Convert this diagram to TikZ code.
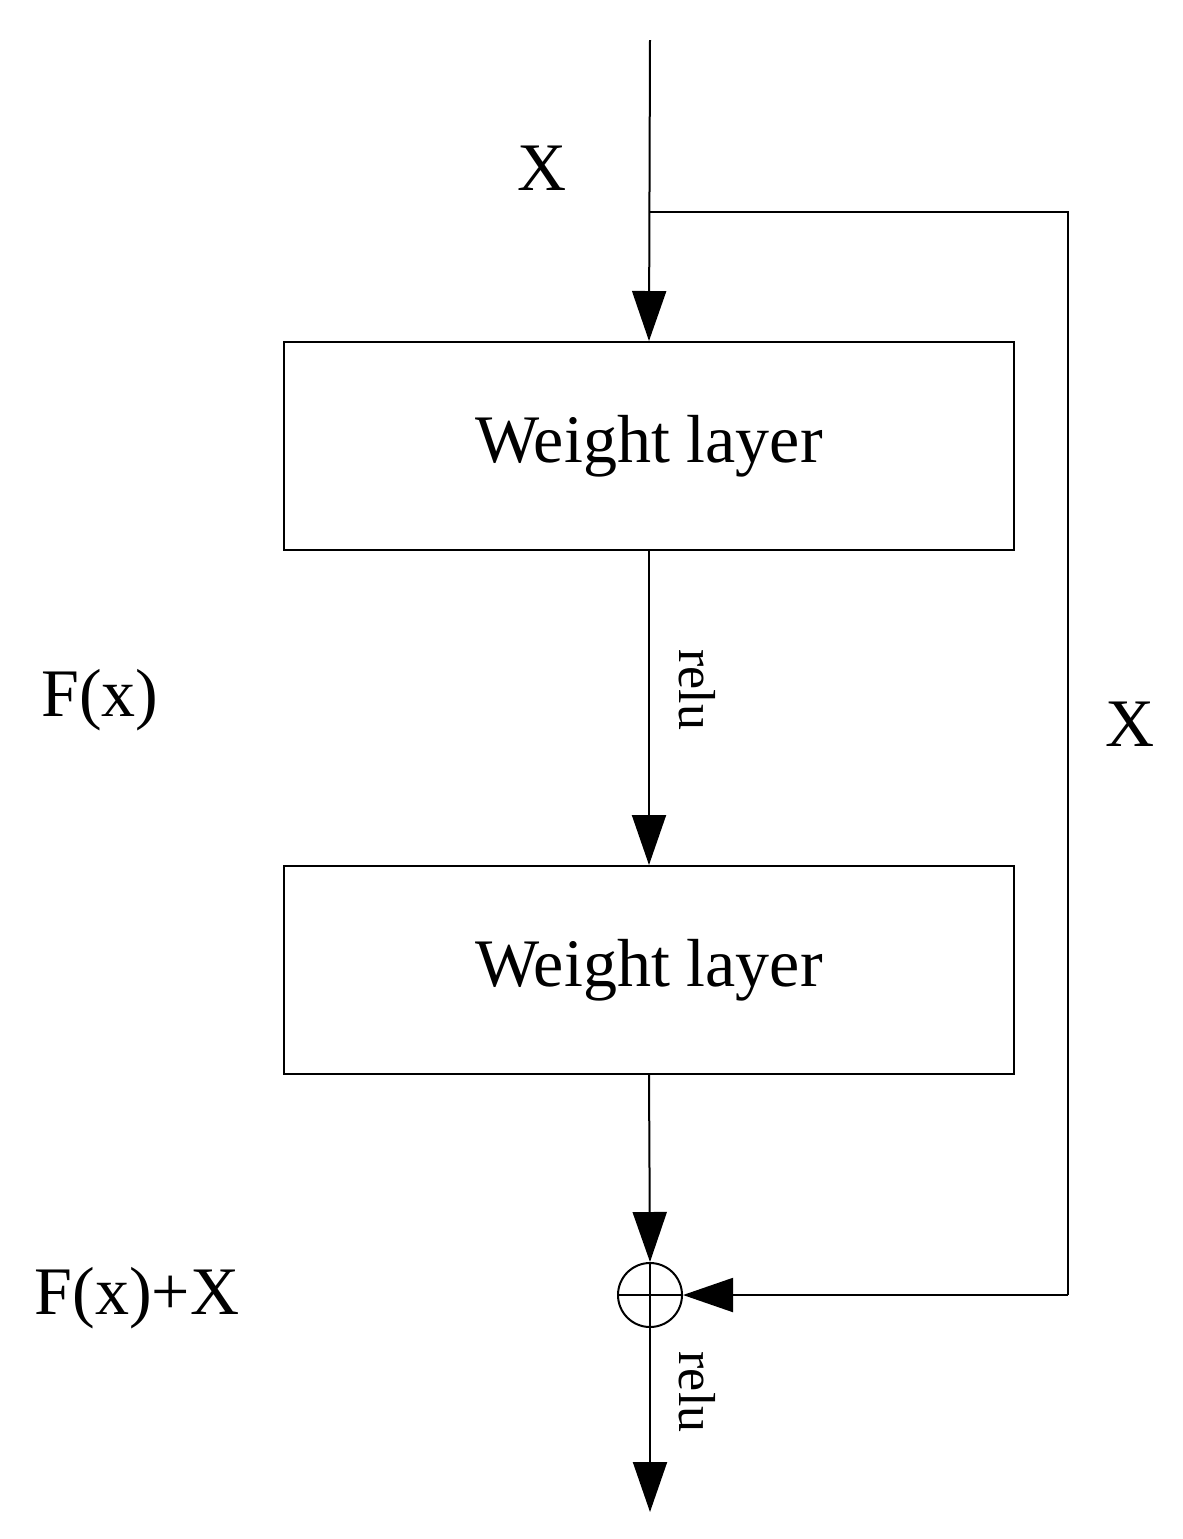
\documentclass[tikz,border=0pt]{standalone}
\usepackage{fontspec}
\setmainfont{Liberation Serif}
\usetikzlibrary{arrows.meta}
\begin{document}
\begin{tikzpicture}[x=0.5pt,y=-0.5pt,line width=1pt,
  arr/.style={-{Triangle[length=25pt,width=17pt]}},
  box/.style={draw,minimum width=365pt,minimum height=104pt,inner sep=0pt,font=\fontsize{34}{40}\selectfont},
  lab/.style={font=\fontsize{34}{40}\selectfont},
  rl/.style={font=\fontsize{26}{30}\selectfont,rotate=-90}]
\useasboundingbox (0,0) rectangle (1183,1539);
\coordinate (top) at (650,40);
\coordinate (br) at (650,212);
\coordinate (rt) at (1068,212);
\coordinate (rb) at (1068,1295);
\coordinate (out) at (650,1512);
\node[box] (b1) at (649,446) {Weight layer};
\node[box] (b2) at (649,970) {Weight layer};
\node[circle,draw,minimum size=32pt,inner sep=0pt] (sum) at (650,1295) {};
\draw (sum.north) -- (sum.south) (sum.west) -- (sum.east);
\draw[arr] (top) -- (b1.north);
\draw (br) -- (rt) -- (rb);
\draw[arr] (rb) -- (sum.east);
\draw[arr] (b1.south) -- (b2.north);
\draw[arr] (b2.south) -- (sum.north);
\draw[arr] (sum.south) -- (out);
\node[lab] (x1) at (542,168) {X};
\node[lab] (x2) at (1130,724) {X};
\node[lab] (f) at (100,700) {F(x)};
\node[lab] (fx) at (137,1298) {F(x)+X};
\node[rl] (r1) at (697,690) {relu};
\node[rl] (r2) at (697,1392) {relu};
\end{tikzpicture}
\end{document}
